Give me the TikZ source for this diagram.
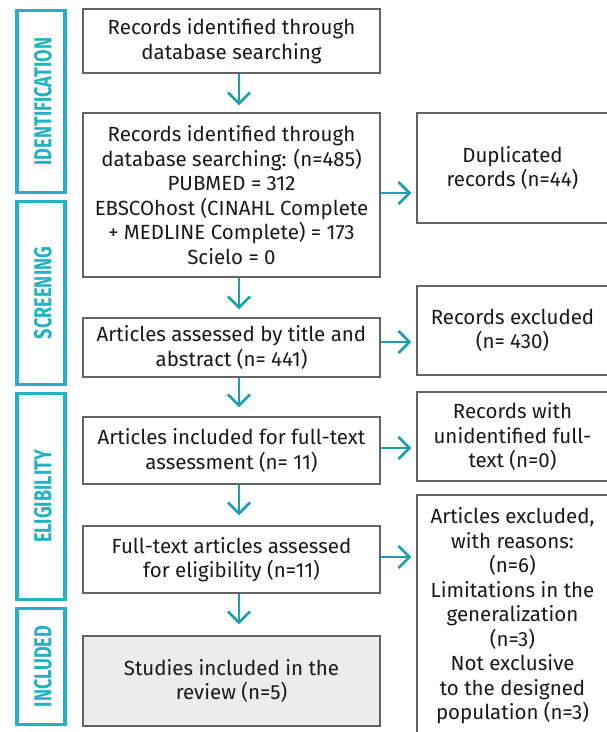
\documentclass[tikz,border=0pt]{standalone}
\usepackage{fontspec}
\setmainfont{Fira Sans}
\newfontfamily\labfont[FakeStretch=0.74]{Fira Sans Bold}
\usetikzlibrary{arrows.meta}
\definecolor{tealA}{RGB}{28,160,176}
\definecolor{tealL}{RGB}{34,178,196}
\definecolor{boxgray}{RGB}{100,100,100}
\definecolor{fillgray}{RGB}{236,236,236}
\tikzset{
  stepbox/.style={draw=boxgray, line width=1.4pt, align=center, inner xsep=0pt, inner ysep=2pt,
    font=\fontsize{20.5}{24.5}\selectfont, text=black!90},
  phase/.style={draw=tealL, line width=3.3pt, minimum width=48pt, inner sep=0pt,
    text=tealL},
  phasetxt/.style={rotate=90, text=tealL, font=\labfont\fontsize{24.5}{26}\selectfont},
  flow/.style={draw=tealA, line width=2.6pt,
    -{Straight Barb[length=11pt,width=22pt,line width=2.6pt]}}
}
\begin{document}
\begin{tikzpicture}[x=1pt,y=-1pt]
\useasboundingbox (0,0) rectangle (607,732);
% phase boxes
\node[phase, minimum height=181.6pt] (pid) at (41,101.5) {};
\node[phase, minimum height=182.6pt] (psc) at (41,293) {};
\node[phase, minimum height=205.6pt] (pel) at (41,496.5) {};
\node[phase, minimum height=115.6pt] (pin) at (41,666.5) {};
\node[phasetxt] (tid) at (43,101.5) {IDENTIFICATION};
\node[phasetxt] (tsc) at (43,293) {SCREENING};
\node[phasetxt] (tel) at (43,496.5) {ELIGIBILITY};
\node[phasetxt] (tin) at (43,666.5) {INCLUDED};
% main boxes
\node[stepbox, minimum width=297pt, minimum height=64pt] (b1) at (231.5,41)
  {Records identified through\\database searching};
\node[stepbox, minimum width=297pt, minimum height=164pt] (b2) at (231.5,195)
  {Records identified through\\database searching: (n=485)\\PUBMED = 312\\EBSCOhost (CINAHL Complete\\+ MEDLINE Complete) = 173\\Scielo = 0};
\node[stepbox, minimum width=191pt, minimum height=110pt] (b3) at (512.5,168)
  {Duplicated\\records (n=44)};
\node[stepbox, minimum width=297pt, minimum height=59pt] (b4) at (231.5,347.5)
  {Articles assessed by title and\\abstract (n= 441)};
\node[stepbox, minimum width=191pt, minimum height=89pt] (b5) at (512.5,330.5)
  {Records excluded\\(n= 430)};
\node[stepbox, minimum width=297pt, minimum height=67pt] (b6) at (231.5,450.5)
  {Articles included for full-text\\assessment (n= 11)};
\node[stepbox, minimum width=191pt, minimum height=89pt] (b7) at (512.5,436.5)
  {Records with\\unidentified full-\\text (n=0)};
\node[stepbox, minimum width=297pt, minimum height=67pt] (b8) at (231.5,559.5)
  {Full-text articles assessed\\for eligibility (n=11)};
\node[stepbox, minimum width=191pt, minimum height=242pt] (b9) at (512.5,616)
  {Articles excluded,\\with reasons:\\(n=6)\\Limitations in the\\generalization\\(n=3)\\Not exclusive\\to the designed\\population (n=3)};
\node[stepbox, fill=fillgray, minimum width=297pt, minimum height=90pt] (b10) at (231.5,681)
  {Studies included in the\\review (n=5)};
% arrow guide coordinates
\coordinate (ax) at (239,0);
\coordinate (h1) at (0,193);
\coordinate (h2) at (0,342);
\coordinate (h3) at (0,448);
\coordinate (h4) at (0,557);
% vertical arrows
\draw[flow, shorten >=7pt] (b1.south -| ax) -- (b2.north -| ax);
\draw[flow, shorten >=8pt] (b2.south -| ax) -- (b4.north -| ax);
\draw[flow, shorten >=9pt] (b4.south -| ax) -- (b6.north -| ax);
\draw[flow, shorten >=10pt] (b6.south -| ax) -- (b8.north -| ax);
\draw[flow, shorten >=11pt] (b8.south -| ax) -- (b10.north -| ax);
% horizontal arrows
\draw[flow, shorten >=5pt] (b2.east |- h1) -- (b3.west |- h1);
\draw[flow, shorten >=5pt] (b4.east |- h2) -- (b5.west |- h2);
\draw[flow, shorten >=5pt] (b6.east |- h3) -- (b7.west |- h3);
\draw[flow, shorten >=5pt] (b8.east |- h4) -- (b9.west |- h4);
\end{tikzpicture}
\end{document}
